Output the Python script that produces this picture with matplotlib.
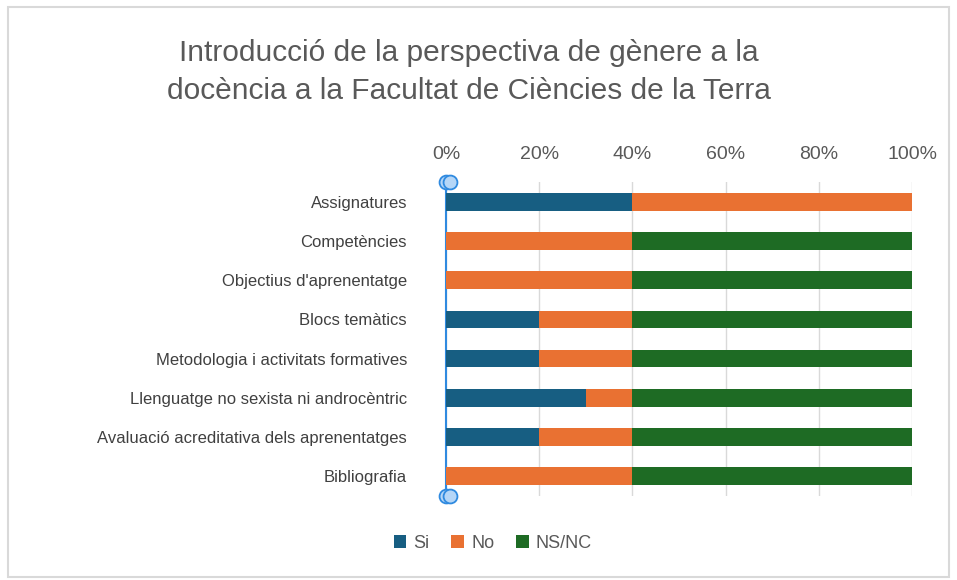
import matplotlib.pyplot as plt
import numpy as np
from matplotlib.patches import Rectangle

plt.rcParams['font.family'] = ['Liberation Sans Narrow', 'Liberation Sans', 'DejaVu Sans']

# dades
categories = ['Assignatures', 'Competències', "Objectius d'aprenentatge", 'Blocs temàtics',
              'Metodologia i activitats formatives', 'Llenguatge no sexista ni androcèntric',
              'Avaluació acreditativa dels aprenentatges', 'Bibliografia']
si = [40, 0, 0, 20, 20, 30, 20, 0]
no = [60, 40, 40, 20, 20, 10, 20, 40]
nsnc = [0, 60, 60, 60, 60, 60, 60, 60]
ticks = [0, 20, 40, 60, 80, 100]

fig = plt.figure(figsize=(9.57, 5.8), dpi=100)
fig.patches.append(Rectangle((0.008, 0.005), 0.984, 0.983, transform=fig.transFigure,
                             fill=False, edgecolor='#d9d9d9', linewidth=1.5))
ax = fig.add_axes([0.466, 0.145, 0.487, 0.541])

y = np.arange(len(categories))
h = 0.45
ax.barh(y, si, height=h, color='#175e82', label='Si', zorder=3)
ax.barh(y, no, left=si, height=h, color='#e97132', label='No', zorder=3)
ax.barh(y, nsnc, left=np.array(si) + np.array(no), height=h, color='#1e6b24', label='NS/NC', zorder=3)

ax.set_ylim(len(categories) - 0.5, -0.5)
ax.set_xlim(0, 100)
ax.set_yticks(y)
ax.set_yticklabels(categories, fontsize=12, color='#404040')
ax.xaxis.tick_top()
ax.set_xticks(ticks)
ax.set_xticklabels([f'{t}%' for t in ticks], fontsize=14, color='#595959')
ax.tick_params(axis='both', length=0)
ax.tick_params(axis='x', pad=14)
ax.tick_params(axis='y', pad=28)
ax.grid(axis='x', color='#d9d9d9', linewidth=1, zorder=0)
for s in ['top', 'right', 'bottom']:
    ax.spines[s].set_visible(False)
ax.spines['left'].set_color('#2f8ae0')
ax.spines['left'].set_linewidth(1.5)

# tiradors de selecció
for yy in [-0.5, len(categories) - 0.5]:
    ax.plot([0, 0.8], [yy, yy], 'o', ms=10, mfc='#b5d6f7', mec='#2f8ae0', mew=1.3,
            clip_on=False, zorder=5)

fig.text(0.49, 0.876, 'Introducció de la perspectiva de gènere a la\ndocència a la Facultat de Ciències de la Terra',
         ha='center', va='center', fontsize=21.5, color='#595959', linespacing=1.45)

leg = fig.legend(loc='center', bbox_to_anchor=(0.515, 0.063), ncol=3, frameon=False,
                 fontsize=13, handlelength=0.7, handleheight=0.7, columnspacing=1.2,
                 handletextpad=0.4)
for t in leg.get_texts():
    t.set_color('#595959')

plt.savefig('out.png')
